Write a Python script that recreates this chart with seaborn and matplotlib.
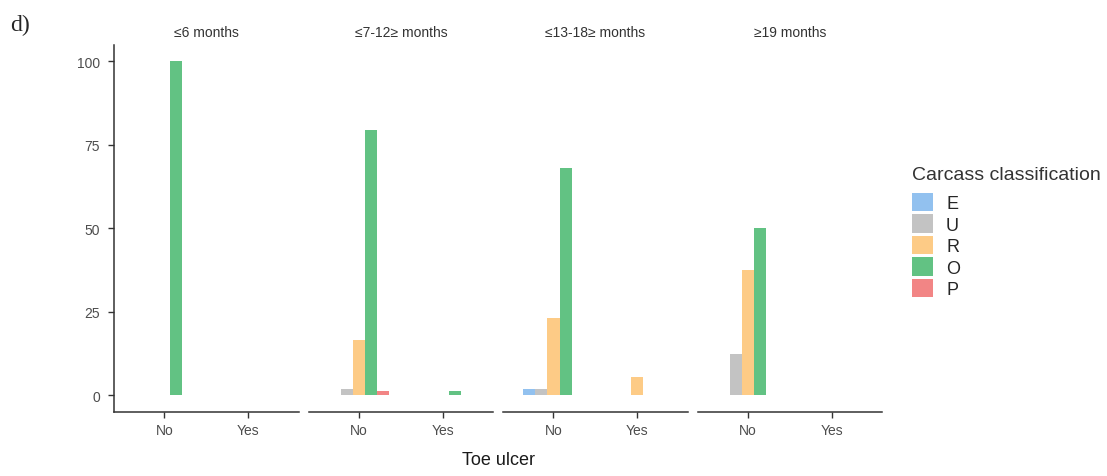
import pandas as pd
import matplotlib.pyplot as plt
import seaborn as sns
from matplotlib.patches import Patch

# values (percent)
age_groups = ["≤6 months", "≤7-12≥ months", "≤13-18≥ months", "≥19 months"]
ulcer = ["No", "Yes"]
classes = ["E", "U", "R", "O", "P"]
colors = ["#92C1EF", "#C3C3C3", "#FDCB86", "#62C283", "#F28585"]

# one list per age group: [No values E..P, Yes values E..P]
vals_6 = [[0, 0, 0, 100, 0], [0, 0, 0, 0, 0]]
vals_7_12 = [[0, 1.8, 16.7, 79.6, 1.2], [0, 0, 0, 1.2, 0]]
vals_13_18 = [[1.8, 1.8, 23.3, 68.0, 0], [0, 0, 5.6, 0, 0]]
vals_19 = [[0, 12.5, 37.5, 50.0, 0], [0, 0, 0, 0, 0]]
all_vals = [vals_6, vals_7_12, vals_13_18, vals_19]

rows = []
for g, gv in zip(age_groups, all_vals):
    for u, uv in zip(ulcer, gv):
        for c, v in zip(classes, uv):
            rows.append({"age": g, "ulcer": u, "cls": c, "pct": v})
df = pd.DataFrame(rows)

sns.set_style("white")
plt.rcParams["font.family"] = ["Liberation Sans", "DejaVu Sans"]

fig, axes = plt.subplots(1, 4, figsize=(11.07, 4.77), dpi=100, sharey=True)
fig.subplots_adjust(left=0.103, right=0.797, bottom=0.134, top=0.904, wspace=0.054)

for i, (ax, g) in enumerate(zip(axes, age_groups)):
    sub = df[df["age"] == g]
    sns.barplot(data=sub, x="ulcer", y="pct", hue="cls", order=ulcer,
                hue_order=classes, palette=colors, width=0.72, saturation=1,
                linewidth=0, ax=ax, legend=False)
    ax.set_xlim(-0.6, 1.6)
    ax.set_ylim(-5, 105)
    ax.set_xlabel("")
    ax.set_ylabel("")
    ax.set_title(g, fontsize=10, color="#333333", pad=6)
    for s in ["top", "right"]:
        ax.spines[s].set_visible(False)
    ax.spines["bottom"].set_color("#333333")
    ax.spines["bottom"].set_linewidth(1.1)
    ax.tick_params(axis="x", length=4, width=1, color="#333333", labelsize=10,
                   labelcolor="#4D4D4D", bottom=True, pad=4)
    if i == 0:
        ax.spines["left"].set_color("#333333")
        ax.spines["left"].set_linewidth(1.1)
        ax.set_yticks([0, 25, 50, 75, 100])
        ax.tick_params(axis="y", length=4, width=1, color="#333333", labelsize=10,
                       labelcolor="#4D4D4D", left=True, pad=6)
    else:
        ax.spines["left"].set_visible(False)
        ax.tick_params(axis="y", left=False)

fig.text(0.45, 0.025, "Toe ulcer", ha="center", fontsize=13, color="#1A1A1A")
fig.text(0.009, 0.935, "d)", fontsize=17, family="Liberation Serif")

handles = [Patch(facecolor=c, edgecolor="none") for c in colors]
leg = fig.legend(handles, classes, title="Carcass classification", loc="upper left",
                 bbox_to_anchor=(0.809, 0.684), frameon=False, fontsize=13,
                 title_fontsize=14, handlelength=1.2, handleheight=1.2,
                 labelspacing=0.12, handletextpad=0.7)
leg._legend_box.align = "left"
leg._legend_box.sep = 7
leg.get_title().set_color("#333333")

plt.savefig("out.png", dpi=100)
